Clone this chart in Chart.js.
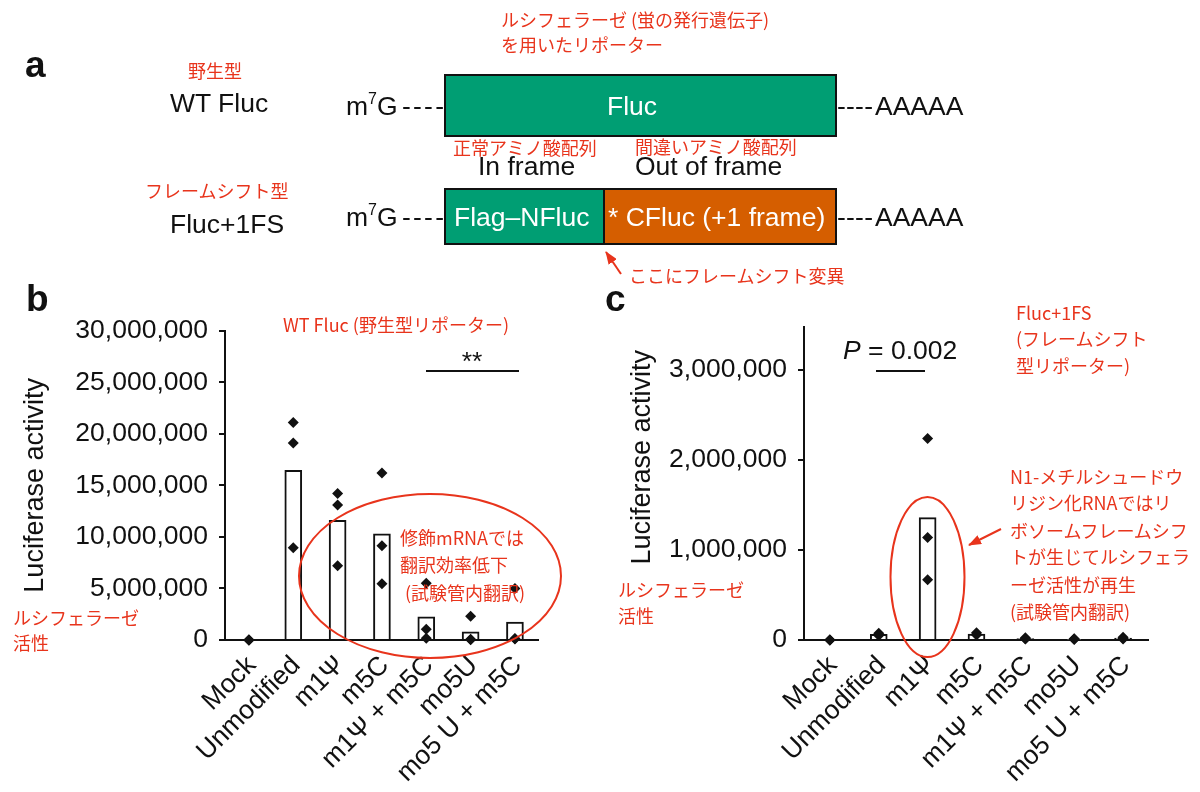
<!DOCTYPE html>
<html>
<head>
<meta charset="utf-8">
<script src="https://cdn.jsdelivr.net/npm/chart.js@4"></script>
<style>
html, body { margin: 0; padding: 0; background: #fff; }
#page { position: relative; width: 1200px; height: 792px; overflow: hidden; }
.panel { position: absolute; }
#overlay { position: absolute; left: 0; top: 0; pointer-events: none; }
</style>
</head>
<body>
<div id="page">
  <div class="panel" style="left:0; top:300px; width:580px; height:492px;"><canvas id="chartB"></canvas></div>
  <div class="panel" style="left:580px; top:300px; width:620px; height:492px;"><canvas id="chartC"></canvas></div>

  <svg id="overlay" width="1200" height="792" viewBox="0 0 1200 792">
    <defs>
      <marker id="ah" markerWidth="13" markerHeight="10" refX="12" refY="5" orient="auto" markerUnits="userSpaceOnUse">
        <path d="M0,0 L13,5 L0,10 z" fill="#e8341c"/>
      </marker>
    </defs>

    <!-- panel a: constructs -->
    <rect x="445" y="75" width="391" height="61" fill="#009e73" stroke="#111" stroke-width="2"/>
    <rect x="445" y="189" width="159" height="55" fill="#009e73" stroke="#111" stroke-width="2"/>
    <rect x="604" y="189" width="232" height="55" fill="#d55e00" stroke="#111" stroke-width="2"/>

    <g font-family="'Liberation Sans', Arial, sans-serif" fill="#111">
      <text x="25" y="77" font-size="37" font-weight="bold">a</text>
      <text x="26" y="311" font-size="37" font-weight="bold">b</text>
      <text x="605" y="311" font-size="37" font-weight="bold">c</text>

      <text x="170" y="112" font-size="26.5">WT Fluc</text>
      <text x="170" y="233" font-size="26.5">Fluc+1FS</text>

      <text x="346" y="115" font-size="26.5">m<tspan font-size="16" dy="-11">7</tspan><tspan dy="11">G</tspan></text>
      <text x="402" y="115" font-size="26.5" textLength="42" lengthAdjust="spacing">----</text>
      <text x="346" y="226" font-size="26.5">m<tspan font-size="16" dy="-11">7</tspan><tspan dy="11">G</tspan></text>
      <text x="402" y="226" font-size="26.5" textLength="42" lengthAdjust="spacing">----</text>

      <text x="837" y="115" font-size="26.5" textLength="36" lengthAdjust="spacing">----</text>
      <text x="875" y="115" font-size="26.5">AAAAA</text>
      <text x="837" y="226" font-size="26.5" textLength="36" lengthAdjust="spacing">----</text>
      <text x="875" y="226" font-size="26.5">AAAAA</text>

      <text x="632" y="115" font-size="26.5" fill="#fff" text-anchor="middle">Fluc</text>
      <text x="454" y="226" font-size="26.5" fill="#fff">Flag–NFluc</text>
      <text x="608" y="226" font-size="26.5" fill="#fff">* CFluc (+1 frame)</text>

      <text x="478" y="175" font-size="26.5">In frame</text>
      <text x="635" y="175" font-size="26.5">Out of frame</text>

      <!-- significance marks -->
      <text x="472" y="370" font-size="26.5" text-anchor="middle">**</text>
      <text x="843" y="359" font-size="26.5"><tspan font-style="italic">P</tspan> = 0.002</text>
    </g>
    <line x1="426" y1="371" x2="519" y2="371" stroke="#111" stroke-width="2"/>
    <line x1="876" y1="371" x2="925" y2="371" stroke="#111" stroke-width="2"/>

    <!-- red notes -->
    <g font-family="'Noto Sans CJK JP', sans-serif" font-size="18" fill="#e8341c">
      <text x="501" y="27">ルシフェラーゼ (蛍の発行遺伝子)</text>
      <text x="501" y="52">を用いたリポーター</text>
      <text x="188" y="78">野生型</text>
      <text x="145" y="198">フレームシフト型</text>
      <text x="453" y="155">正常アミノ酸配列</text>
      <text x="635" y="154">間違いアミノ酸配列</text>
      <text x="629" y="283">ここにフレームシフト変異</text>

      <text x="283" y="332">WT Fluc (野生型リポーター)</text>
      <text x="400" y="545">修飾mRNAでは</text>
      <text x="400" y="572">翻訳効率低下</text>
      <text x="405" y="600">(試験管内翻訳)</text>
      <text x="13" y="625">ルシフェラーゼ</text>
      <text x="13" y="650">活性</text>

      <text x="1016" y="320">Fluc+1FS</text>
      <text x="1016" y="346">(フレームシフト</text>
      <text x="1016" y="373">型リポーター)</text>
      <text x="1010" y="484">N1-メチルシュードウ</text>
      <text x="1010" y="510">リジン化RNAではリ</text>
      <text x="1010" y="538">ボソームフレームシフ</text>
      <text x="1010" y="564">トが生じてルシフェラ</text>
      <text x="1010" y="592">ーゼ活性が再生</text>
      <text x="1010" y="619">(試験管内翻訳)</text>
      <text x="618" y="597">ルシフェラーゼ</text>
      <text x="618" y="623">活性</text>
    </g>
    <ellipse cx="430" cy="576" rx="131" ry="82" fill="none" stroke="#e8341c" stroke-width="2"/>
    <ellipse cx="927.5" cy="577" rx="37" ry="80" fill="none" stroke="#e8341c" stroke-width="2"/>
    <line x1="621" y1="274" x2="606" y2="252" stroke="#e8341c" stroke-width="2" marker-end="url(#ah)"/>
    <line x1="1001" y1="529" x2="969" y2="545" stroke="#e8341c" stroke-width="2" marker-end="url(#ah)"/>
  </svg>
</div>

<script>
// categories (same order in both panels)
const categories = ['Mock', 'Unmodified', 'm1Ψ', 'm5C', 'm1Ψ + m5C', 'mo5U', 'mo5 U + m5C'];

// panel b: WT Fluc, bar = mean, three replicate points
const wtMean = [0, 16450000, 11600000, 10300000, 2250000, 800000, 1750000];
const wtRep1 = [0, 21100000, 14200000, 16200000, 5500000, 2300000, 5000000];
const wtRep2 = [0, 19100000, 13100000, 9150000, 1050000, 80000, 150000];
const wtRep3 = [0, 8950000, 7200000, 5450000, 180000, 30000, 100000];
const wtTicks = [0, 5000000, 10000000, 15000000, 20000000, 25000000, 30000000];

// panel c: Fluc+1FS
const fsMean = [0, 62000, 1360000, 66000, 17000, 10000, 20000];
const fsRep1 = [0, 75000, 2240000, 80000, 25000, 15000, 30000];
const fsRep2 = [0, 60000, 1140000, 65000, 15000, 10000, 20000];
const fsRep3 = [0, 50000, 670000, 55000, 10000, 5000, 10000];
const fsTicks = [0, 1000000, 2000000, 3000000];

const FONT = "'Liberation Sans', Arial, sans-serif";
const INK = '#111';

function drawPanel(id, means, reps, yTicks, o) {
    const points = [];
    reps.forEach(r => r.forEach((v, i) => points.push({x: i, y: v})));

    return new Chart(document.getElementById(id), {
        type: 'bar',
        data: {
            datasets: [{
                type: 'scatter',
                data: points,
                pointStyle: 'rectRot',
                pointRadius: 5.5,
                backgroundColor: INK,
                borderColor: INK,
                borderWidth: 0,
                clip: false,
                order: 0
            }, {
                data: means.map((v, i) => ({x: i, y: v})),
                backgroundColor: '#fff',
                borderColor: INK,
                borderWidth: 2,
                barThickness: 17,
                clip: false,
                order: 1
            }]
        },
        options: {
            responsive: true,
            maintainAspectRatio: false,
            animation: false,
            layout: { padding: { left: 0, top: o.padTop, right: o.padRight, bottom: 0 } },
            plugins: { legend: { display: false }, tooltip: { enabled: false } },
            scales: {
                x: {
                    type: 'linear',
                    offset: false,
                    bounds: 'data',
                    min: o.xMin,
                    max: o.xMax,
                    afterBuildTicks: s => { s.ticks = categories.map((_, i) => ({value: i})); },
                    afterFit: s => { s.height = 152; },
                    ticks: {
                        callback: v => categories[v],
                        autoSkip: false,
                        minRotation: 45,
                        maxRotation: 45,
                        padding: 10,
                        labelOffset: 3,
                        color: INK,
                        font: { family: FONT, size: 26.5 }
                    },
                    grid: { display: false, drawTicks: false, offset: false },
                    border: { color: INK, width: 2 }
                },
                y: {
                    min: 0,
                    max: o.yMax,
                    afterBuildTicks: s => { s.ticks = yTicks.map(v => ({value: v})); },
                    afterFit: s => { s.width = o.yWidth; },
                    ticks: {
                        callback: v => v.toLocaleString('en-US'),
                        padding: 11,
                        color: INK,
                        font: { family: FONT, size: 26.5 }
                    },
                    grid: { drawOnChartArea: false, tickLength: 6, color: INK, lineWidth: 2 },
                    border: { color: INK, width: 2 },
                    title: {
                        display: true,
                        text: o.title,
                        color: INK,
                        font: { family: FONT, size: 27 },
                        padding: { top: o.titlePad, bottom: 0 }
                    }
                }
            }
        }
    });
}

drawPanel('chartB', wtMean, [wtRep1, wtRep2, wtRep3], wtTicks, {
    xMin: -0.54, xMax: 6.52, yMax: 30000000,
    padTop: 30.7, padRight: 42, yWidth: 225, titlePad: 19,
    title: 'Luciferase activity'
});

drawPanel('chartC', fsMean, [fsRep1, fsRep2, fsRep3], fsTicks, {
    xMin: -0.53, xMax: 6.51, yMax: 3480000,
    padTop: 26, padRight: 52, yWidth: 224, titlePad: 46,
    title: '       Luciferase activity'
});
</script>
</body>
</html>
